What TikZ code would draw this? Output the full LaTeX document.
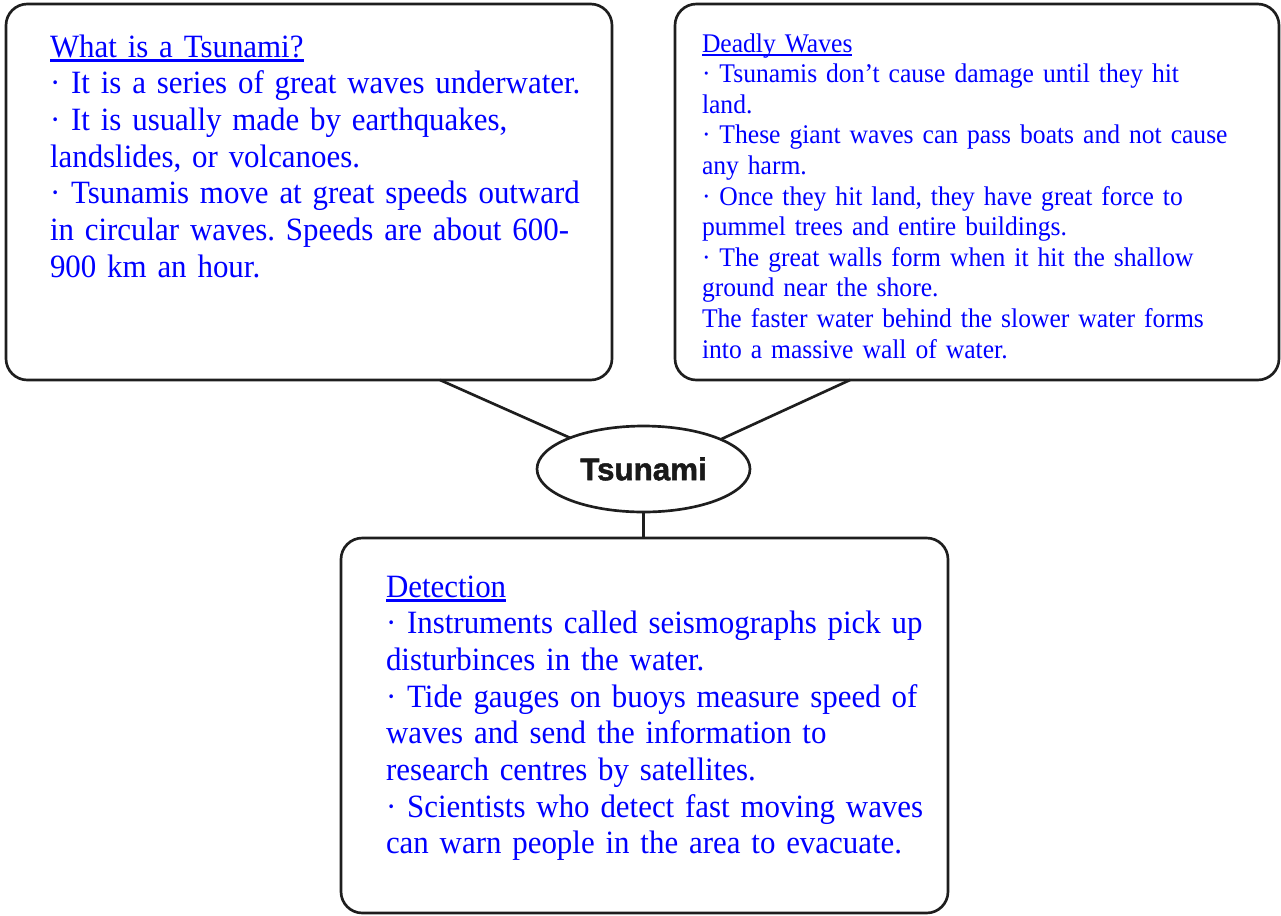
\documentclass[tikz,border=0pt]{standalone}
\usepackage{fontspec}
\setmainfont{Liberation Serif}[FakeStretch=0.95]
\newfontfamily\titlefont{Liberation Sans}[BoldFeatures={FakeBold=1.6}]
\usetikzlibrary{shapes.geometric}
\definecolor{txtblue}{RGB}{0,0,255}
\definecolor{linecol}{RGB}{30,30,30}
\newlength\ulwidth
\newcommand{\myul}[1]{\settowidth{\ulwidth}{#1}\rlap{\rule[-0.15em]{\ulwidth}{0.075em}}#1}
\frenchspacing

\begin{document}
\begin{tikzpicture}[x=0.75pt,y=-0.75pt,
  box/.style={draw=linecol, line width=2pt, rounded corners=16pt, rectangle, inner sep=0pt, outer sep=0pt},
  conn/.style={draw=linecol, line width=2pt},
  bodytext/.style={anchor=base west, inner sep=0pt, outer sep=0pt, text=txtblue, align=left, text width=#1},
  bigfont/.style={font=\fontsize{24.4}{27.5}\selectfont},
  smallfont/.style={font=\fontsize{20.2}{22.95}\selectfont},
  hub/.style={ellipse, draw=linecol, line width=2pt, inner sep=0pt, outer sep=0pt,
    minimum width=159.75pt, minimum height=64.5pt, font=\titlefont\bfseries\fontsize{23.5}{26}\selectfont, text=black!90}
]
\useasboundingbox (0,0) rectangle (1281,915);

% boxes
\node[box, minimum width=454.5pt, minimum height=282pt] (box1) at (309,192) {};
\node[box, minimum width=453pt, minimum height=282pt] (box2) at (977,192) {};
\node[box, minimum width=455.25pt, minimum height=281.25pt] (box3) at (644.5,725.5) {};

% central ellipse
\node[hub] (hub) at (643.5,469) {Tsunami};

% connectors
\coordinate (c1) at (440,380);
\coordinate (c2) at (850,380);
\draw[conn] (c1) -- (hub.157.9);
\draw[conn] (c2) -- (hub.21.5);
\draw[conn] (hub.south) -- (hub.south |- box3.north);

% texts
\node[bodytext=440pt, bigfont] (t1) at (50,57) {\myul{What is a Tsunami?}\\
· It is a series of great waves underwater.\\
· It is usually made by earthquakes,\\
landslides, or volcanoes.\\
· Tsunamis move at great speeds outward\\
in circular waves. Speeds are about 600-\\
900 km an hour.};

\node[bodytext=440pt, smallfont] (t2) at (702,52) {\myul{Deadly Waves}\\
· Tsunamis don’t cause damage until they hit\\
land.\\
· These giant waves can pass boats and not cause\\
any harm.\\
· Once they hit land, they have great force to\\
pummel trees and entire buildings.\\
· The great walls form when it hit the shallow\\
ground near the shore.\\
The faster water behind the slower water forms\\
into a massive wall of water.};

\node[bodytext=440pt, bigfont] (t3) at (386,597) {\myul{Detection}\\
· Instruments called seismographs pick up\\
disturbinces in the water.\\
· Tide gauges on buoys measure speed of\\
waves and send the information to\\
research centres by satellites.\\
· Scientists who detect fast moving waves\\
can warn people in the area to evacuate.};
\end{tikzpicture}
\end{document}
